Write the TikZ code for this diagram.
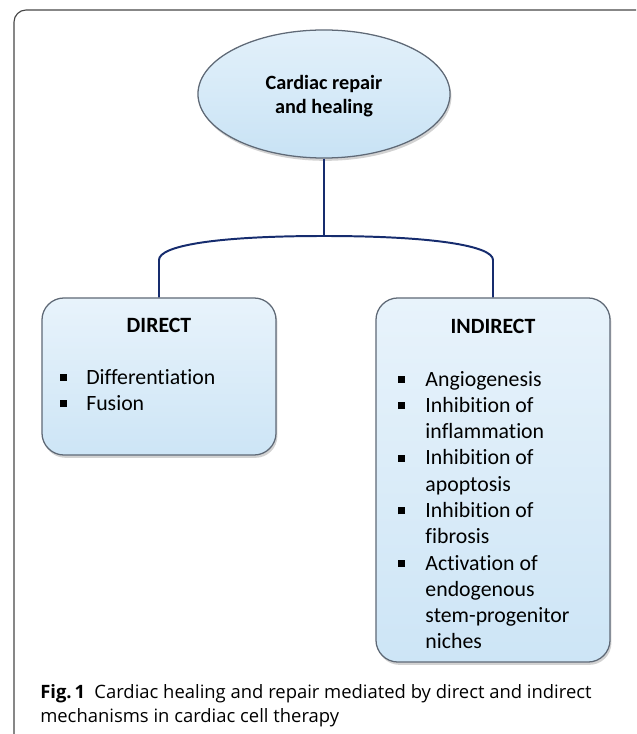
\documentclass[tikz,border=0pt]{standalone}
\usepackage{fontspec}
\setmainfont{Carlito}[Ligatures={NoCommon,NoContextual}]
\newfontfamily\capfont{Open Sans}
\usetikzlibrary{shapes.geometric,shadows}

\newcommand{\sqbullet}{\raisebox{2.2pt}{\rule{5pt}{5pt}}}

\begin{document}
\begin{tikzpicture}[x=0.025cm,y=-0.025cm,
    hub/.style={ellipse, draw=edgegray, line width=0.9pt,
      top color=hubtop, bottom color=hubbottom, middle color=hubmid,
      minimum width=6.3cm, minimum height=3.2cm, inner sep=0pt,
      drop shadow={shadow xshift=1pt, shadow yshift=-2pt, fill=black!35}},
    branch/.style={draw=edgegray, line width=0.9pt, rounded corners=0.55cm,
      top color=boxtop, bottom color=boxbottom,
      minimum width=5.85cm, inner sep=0pt,
      drop shadow={shadow xshift=1pt, shadow yshift=-2pt, fill=black!35}},
    link/.style={draw=linkblue, line width=1.4pt},
    title/.style={font=\fontsize{14.4}{17}\selectfont\bfseries, anchor=base},
    boxtitle/.style={font=\fontsize{15.5}{18}\selectfont\bfseries, anchor=base},
    items/.style={font=\fontsize{15.5}{18.7}\selectfont, anchor=base west, inner sep=0pt}]
    % Define colors
        \definecolor{edgegray}{RGB}{95, 105, 118}
        \definecolor{hubtop}{RGB}{226, 240, 250}
        \definecolor{hubmid}{RGB}{214, 234, 248}
        \definecolor{hubbottom}{RGB}{200, 226, 244}
        \definecolor{boxtop}{RGB}{232, 243, 251}
        \definecolor{boxbottom}{RGB}{205, 229, 246}
        \definecolor{linkblue}{RGB}{22, 44, 110}
        \definecolor{framegray}{RGB}{70, 70, 70}

        % Page size and outer frame
        \useasboundingbox (0,0) rectangle (636,734);
        \clip (0,0) rectangle (636,734);
        \draw[framegray, line width=0.8pt, rounded corners=0.3cm] (14,10) rectangle (652,750);

        % Top ellipse
        \node[hub] (cardiac) at (324,94) {};
        \node[title] (cardiacA) at (324,90) {Cardiac repair};
        \node[title] (cardiacB) at (324,114) {and healing};

        % Two branch boxes
        \node[branch, minimum height=3.925cm] (direct) at (159,376.5) {};
        \node[branch, minimum height=9.1cm] (indirect) at (493,480) {};
        \node[boxtitle] (directT) at (159,332) {DIRECT};
        \node[boxtitle] (indirectT) at (493,333) {INDIRECT};

        % Bullet lists
        \node[items] (directL) at (60,384) {\begin{tabular}[t]{@{}p{0.65cm}@{}l@{}}
            \sqbullet & Differentiation\\
            \sqbullet & Fusion
          \end{tabular}};
        \node[items] (indirectL) at (398,386) {\begin{tabular}[t]{@{}p{0.68cm}@{}l@{}}
            \sqbullet & Angiogenesis\\
            \sqbullet & Inhibition of\\
                      & inflammation\\
            \sqbullet & Inhibition of\\
                      & apoptosis\\
            \sqbullet & Inhibition of\\
                      & fibrosis\\
            \sqbullet & Activation of\\
                      & endogenous\\
                      & stem-progenitor\\
                      & niches
          \end{tabular}};

        % Connectors
        \coordinate (fork) at (324,236);
        \coordinate (leftbend) at (159,260);
        \coordinate (rightbend) at (493,260);
        \draw[link] (cardiac.south) -- (fork);
        \draw[link] (direct.north) -- (leftbend) .. controls +(0,-14) and +(-110,0) .. (fork)
          .. controls +(110,0) and +(0,-14) .. (rightbend) -- (indirect.north);

        % Caption
        \node[anchor=base west, inner sep=0pt, font=\capfont\fontsize{13.1}{15}\selectfont] (capA) at (40,698)
          {\textbf{Fig.\,1}\enspace Cardiac healing and repair mediated by direct and indirect};
        \node[anchor=base west, inner sep=0pt, font=\capfont\fontsize{13.1}{15}\selectfont] (capB) at (40,722)
          {mechanisms in cardiac cell therapy};
\end{tikzpicture}
\end{document}
